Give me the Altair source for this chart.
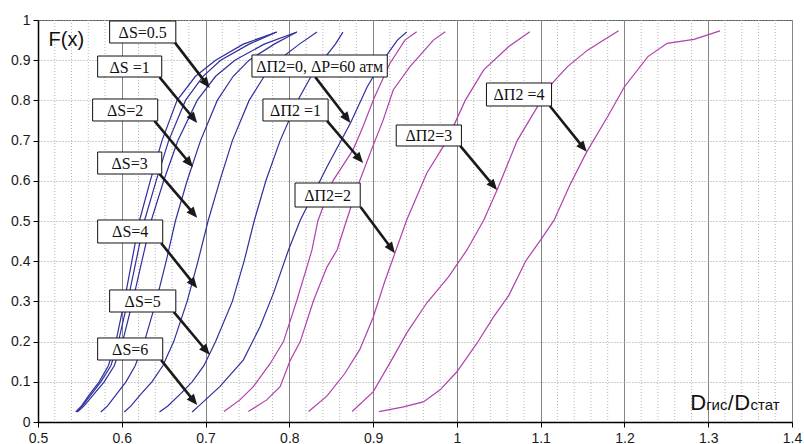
import math
import altair as alt
import numpy as np
import pandas as pd

# ---------------- data ----------------
F_A = [0.025, 0.04, 0.07, 0.1, 0.14, 0.2, 0.3, 0.4, 0.5, 0.6, 0.7, 0.8, 0.86, 0.9, 0.94, 0.97]

dS05_x = [0.545, 0.552, 0.562, 0.573, 0.584, 0.593, 0.603, 0.612, 0.621, 0.634, 0.648, 0.666, 0.688, 0.712, 0.745, 0.785]
dS1_x = [0.546, 0.553, 0.564, 0.575, 0.587, 0.596, 0.607, 0.617, 0.627, 0.641, 0.656, 0.676, 0.697, 0.718, 0.752, 0.785]
dS2_x = [0.547, 0.555, 0.567, 0.579, 0.591, 0.601, 0.613, 0.624, 0.635, 0.650, 0.667, 0.690, 0.712, 0.735, 0.770, 0.809]
dS3_x = [0.575, 0.583, 0.594, 0.605, 0.616, 0.627, 0.641, 0.653, 0.664, 0.678, 0.694, 0.714, 0.733, 0.752, 0.782, 0.809]
dS4_x = [0.603, 0.611, 0.623, 0.636, 0.649, 0.662, 0.678, 0.691, 0.703, 0.717, 0.732, 0.752, 0.770, 0.787, 0.812, 0.833]
dS5_x = [0.645, 0.655, 0.670, 0.684, 0.698, 0.712, 0.732, 0.746, 0.758, 0.772, 0.789, 0.810, 0.826, 0.840, 0.855, 0.864]

dS6_x = [0.684, 0.693, 0.717, 0.745, 0.765, 0.781, 0.799, 0.813, 0.845, 0.873, 0.893, 0.912, 0.929, 0.940]
dS6_F = [0.025, 0.042, 0.088, 0.154, 0.237, 0.32, 0.428, 0.502, 0.635, 0.744, 0.834, 0.90, 0.95, 0.97]

m1_x = [0.722, 0.741, 0.757, 0.777, 0.793, 0.809, 0.821, 0.827, 0.834, 0.852, 0.876, 0.887, 0.902, 0.920, 0.938, 0.952]
m1_F = [0.026, 0.055, 0.088, 0.145, 0.2, 0.303, 0.386, 0.428, 0.5, 0.6, 0.677, 0.73, 0.81, 0.892, 0.95, 0.971]

m2_x = [0.751, 0.773, 0.789, 0.801, 0.813, 0.829, 0.845, 0.857, 0.868, 0.884, 0.898, 0.912, 0.924, 0.944, 0.972, 0.986]
m2_F = [0.026, 0.055, 0.088, 0.153, 0.2, 0.303, 0.386, 0.428, 0.5, 0.6, 0.677, 0.751, 0.826, 0.884, 0.95, 0.971]

m3_x = [0.823, 0.845, 0.866, 0.884, 0.900, 0.914, 0.926, 0.940, 0.964, 0.988, 1.010, 1.032, 1.062, 1.087]
m3_F = [0.026, 0.065, 0.12, 0.18, 0.26, 0.35, 0.42, 0.502, 0.619, 0.70, 0.80, 0.876, 0.934, 0.971]

m4_x = [0.875, 0.900, 0.922, 0.940, 0.964, 0.990, 1.012, 1.032, 1.048, 1.072, 1.096, 1.114, 1.132, 1.156, 1.172, 1.193]
m4_F = [0.026, 0.075, 0.154, 0.221, 0.296, 0.361, 0.428, 0.502, 0.577, 0.70, 0.784, 0.843, 0.884, 0.925, 0.946, 0.973]

m5_x = [0.907, 0.935, 0.960, 0.980, 1.000, 1.024, 1.044, 1.062, 1.082, 1.100, 1.116, 1.135, 1.155, 1.180, 1.200, 1.228, 1.251, 1.283, 1.314]
m5_F = [0.026, 0.037, 0.05, 0.08, 0.125, 0.196, 0.262, 0.315, 0.40, 0.453, 0.502, 0.59, 0.672, 0.76, 0.834, 0.909, 0.942, 0.952, 0.973]

x_ticks = [0.5, 0.6, 0.7, 0.8, 0.9, 1.0, 1.1, 1.2, 1.3, 1.4]
y_ticks = [0.0, 0.1, 0.2, 0.3, 0.4, 0.5, 0.6, 0.7, 0.8, 0.9, 1.0]

# annotation labels, box corners (data units) and arrows (start -> tip)
labels = ["ΔS=0.5", "ΔS =1", "ΔS=2", "ΔS=3", "ΔS=4", "ΔS=5", "ΔS=6",
          "ΔП2=0,  ΔP=60 атм", "ΔП2 =1", "ΔП2=2", "ΔП2=3", "ΔП2 =4"]
box_x1 = [0.5855, 0.5712, 0.5652, 0.5712, 0.5712, 0.5855, 0.5712, 0.7554, 0.7685, 0.8068, 0.9276, 1.0353]
box_x2 = [0.6645, 0.6477, 0.6429, 0.6477, 0.6489, 0.6645, 0.6489, 0.9169, 0.8463, 0.8846, 1.0054, 1.1130]
box_y1 = [0.9975, 0.9104, 0.8035, 0.6716, 0.5025, 0.3284, 0.2090, 0.9129, 0.8035, 0.5945, 0.7388, 0.8433]
box_y2 = [0.9428, 0.8582, 0.7488, 0.6169, 0.4453, 0.2736, 0.1542, 0.8582, 0.7488, 0.5348, 0.6866, 0.7861]
arr_x0 = [0.663, 0.645, 0.639, 0.645, 0.647, 0.662, 0.647, 0.831, 0.845, 0.885, 1.004, 1.111]
arr_y0 = [0.945, 0.858, 0.749, 0.617, 0.445, 0.274, 0.154, 0.858, 0.749, 0.535, 0.687, 0.786]
arr_x1 = [0.705, 0.690, 0.685, 0.690, 0.690, 0.705, 0.690, 0.873, 0.888, 0.926, 1.048, 1.155]
arr_y1 = [0.831, 0.744, 0.634, 0.508, 0.333, 0.167, 0.042, 0.744, 0.644, 0.420, 0.577, 0.672]

# ---------------- frames ----------------
series = [
    ("ΔS=0.5", "blue", dS05_x, F_A), ("ΔS=1", "blue", dS1_x, F_A),
    ("ΔS=2", "blue", dS2_x, F_A), ("ΔS=3", "blue", dS3_x, F_A),
    ("ΔS=4", "blue", dS4_x, F_A), ("ΔS=5", "blue", dS5_x, F_A),
    ("ΔS=6", "blue", dS6_x, dS6_F),
    ("M1", "magenta", m1_x, m1_F), ("M2", "magenta", m2_x, m2_F),
    ("M3", "magenta", m3_x, m3_F), ("M4", "magenta", m4_x, m4_F),
    ("M5", "magenta", m5_x, m5_F),
]
rows = []
for name, grp, xs, fs in series:
    for i, (xv, fv) in enumerate(zip(xs, fs)):
        rows.append({"series": name, "grp": grp, "x": xv, "F": fv, "i": i})
curves = pd.DataFrame(rows)

W, H = 754, 402
PXX = W / (1.4 - 0.5)
PXY = H / 1.0

ann = pd.DataFrame({"label": labels, "x1": box_x1, "x2": box_x2, "y1": box_y1, "y2": box_y2})
ann["xc"] = (ann.x1 + ann.x2) / 2
ann["yc"] = (ann.y1 + ann.y2) / 2

arr = pd.DataFrame({"x0": arr_x0, "y0": arr_y0, "x1": arr_x1, "y1": arr_y1})
dxp = (arr.x1 - arr.x0) * PXX
dyp = -(arr.y1 - arr.y0) * PXY
n = np.hypot(dxp, dyp)
ux, uy = dxp / n, dyp / n
arr["angle"] = np.degrees(np.arctan2(dxp, -dyp)) % 360
arr["xe"] = arr.x1 - 8 * ux / PXX
arr["ye"] = arr.y1 + 8 * uy / PXY

minor = [round(v, 2) for v in np.arange(0.52, 1.4, 0.02) if round(v * 50) % 5 != 0]
minor_df = pd.DataFrame({"x": minor})

xscale = alt.Scale(domain=[0.5, 1.4], nice=False, zero=False)
yscale = alt.Scale(domain=[0, 1], nice=False)

FONT = "Liberation Sans"

XAX = alt.Axis(values=x_ticks, format="~g", grid=True, gridColor="#858585", gridWidth=1,
               domainColor="black", domainWidth=1.5, tickColor="black", tickSize=5,
               labelFont=FONT, labelFontSize=14, labelColor="#1a1a1a", labelPadding=4,
               labelFlush=False, title=None)
YAX = alt.Axis(values=y_ticks, format="~g", grid=True, gridColor="#a0a0a0", gridDash=[1, 2],
               domainColor="black", domainWidth=1.5, tickColor="black", tickSize=5,
               labelFont=FONT, labelFontSize=14, labelColor="#1a1a1a", labelPadding=3,
               labelFlush=False, title=None)


def X(f):
    return alt.X(f, scale=xscale, axis=XAX)


def Y(f):
    return alt.Y(f, scale=yscale, axis=YAX)


grid_minor = alt.Chart(minor_df).mark_rule(
    stroke="#b8b8b8", strokeDash=[1, 2], strokeWidth=1
).encode(x=X("x:Q"))

lines = alt.Chart(curves).mark_line(strokeWidth=1.2).encode(
    x=X("x:Q"), y=Y("F:Q"),
    color=alt.Color("grp:N", scale=alt.Scale(domain=["blue", "magenta"],
                                             range=["#2f2f9f", "#b03fae"]), legend=None),
    detail="series:N",
    order="i:Q",
)

arrow_lines = alt.Chart(arr).mark_rule(color="#1a1a1a", strokeWidth=2.6).encode(
    x=X("x0:Q"), y=Y("y0:Q"), x2="xe:Q", y2="ye:Q")

heads = alt.Chart(arr).mark_point(
    shape="M0,0L0.42,1L-0.42,1Z", filled=True, size=484, color="#1a1a1a", opacity=1, strokeWidth=0
).encode(x=X("x1:Q"), y=Y("y1:Q"), angle=alt.Angle("angle:Q", scale=None))

shadows = alt.Chart(ann).mark_rect(fill="#8a8a8a", xOffset=2, yOffset=2).encode(
    x=X("x1:Q"), x2="x2:Q", y=Y("y1:Q"), y2="y2:Q")

boxes = alt.Chart(ann).mark_rect(fill="white", stroke="#111111", strokeWidth=1).encode(
    x=X("x1:Q"), x2="x2:Q", y=Y("y1:Q"), y2="y2:Q")

texts = alt.Chart(ann).mark_text(font="Liberation Serif", fontSize=16, color="#111111",
                                 align="center", baseline="middle", dy=1).encode(
    x=X("xc:Q"), y=Y("yc:Q"), text="label:N")

title_df = pd.DataFrame({"x": [0.5126], "y": [0.935], "t": ["F(x)"]})
ftitle = alt.Chart(title_df).mark_text(font=FONT, fontSize=20, align="left",
                                       baseline="alphabetic", color="#111111").encode(
    x=X("x:Q"), y=Y("y:Q"), text="t:N")

xt_df = pd.DataFrame({"x": [1.2785, 1.2975, 1.3234, 1.3310, 1.3505],
                      "y": [0.031] * 5,
                      "t": ["D", "гис", "/", "D", "стат"],
                      "s": [22, 15, 21, 22, 15]})
xtitle = alt.Chart(xt_df).mark_text(font=FONT, align="left", baseline="alphabetic",
                                    color="#111111").encode(
    x=X("x:Q"), y=Y("y:Q"),
    text="t:N", size=alt.Size("s:Q", scale=None, legend=None))

chart = alt.layer(grid_minor, lines, arrow_lines, heads, shadows, boxes, texts, ftitle, xtitle).properties(
    width=W, height=H,
    padding={"left": 38, "top": 20, "right": 12, "bottom": 22},
    autosize=alt.AutoSizeParams(type="none"),
    background="white",
).configure_view(stroke="#555555", strokeWidth=1)

chart.save("out.html", embed_options={"renderer": "svg", "actions": False})
